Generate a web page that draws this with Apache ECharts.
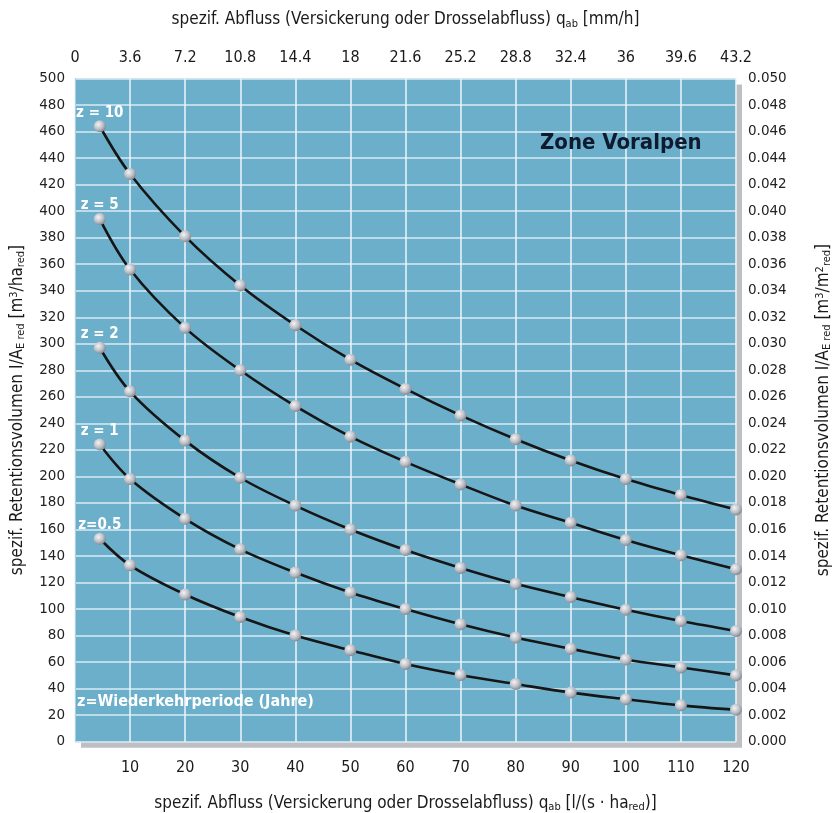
<!DOCTYPE html>
<html>
<head>
<meta charset="utf-8">
<script src="https://cdn.jsdelivr.net/npm/echarts@6/dist/echarts.min.js"></script>
<style>html,body{margin:0;padding:0;background:#fff}#c{width:834px;height:813px}</style>
</head>
<body>
<div id="c"></div>
<script>
// x positions: specific discharge q_ab [l/(s·ha_red)]
const xValues = [4.5, 10, 20, 30, 40, 50, 60, 70, 80, 90, 100, 110, 120];
// retention volume [m3/ha_red] per return period z
const seriesNames = ['z = 10', 'z = 5', 'z = 2', 'z = 1', 'z=0.5'];
const z10  = [464, 428, 381, 344, 314, 288, 266, 246, 228, 212, 198, 186, 175];
const z5   = [394, 356, 312, 280, 253, 230, 211, 194, 178, 165, 152, 140.5, 130];
const z2   = [297, 264, 227, 199, 178, 160, 144.5, 131, 119, 109, 99.5, 91, 83.5];
const z1   = [224, 198, 168, 145, 127.5, 112.5, 100, 88.5, 78.5, 70, 62, 56, 50];
const z05  = [153, 133, 111, 94, 80, 69, 58.6, 50.3, 43.5, 37, 32, 27.4, 24];
const seriesValues = [z10, z5, z2, z1, z05];

const NARROW = "'Liberation Sans Narrow','DejaVu Sans Condensed','Arial Narrow',sans-serif";
const TICKF = "'DejaVu Sans',Verdana,sans-serif";

const chart = echarts.init(document.getElementById('c'), null, {renderer:'canvas'});

const richName = {
  sub: {fontSize: 11, fontFamily: NARROW, color:'#1a1a1a', padding:[8,0,0,0]},
  sup: {fontSize: 11, fontFamily: NARROW, color:'#1a1a1a', padding:[0,0,7,0]}
};
const nameStyle = {fontFamily: NARROW, fontSize: 17, color:'#1a1a1a', rich: richName};

const ballColor = new echarts.graphic.RadialGradient(0.38, 0.35, 0.75, [
  {offset:0, color:'#f4f4f6'},
  {offset:0.55, color:'#b9bcc3'},
  {offset:1, color:'#6f747d'}
]);

const series = seriesValues.map((vals, i) => ({
  type:'line',
  name: seriesNames[i],
  xAxisIndex: 0,
  yAxisIndex: 0,
  smooth: 0.35,
  symbol:'circle',
  symbolSize: 12,
  lineStyle:{color:'#161616', width:2.6},
  itemStyle:{color: ballColor, borderWidth:0},
  z: 3,
  data: vals.map((v, j) => j === 0 ? {
    value:[xValues[j], v],
    label:{show:true, position:'top', distance:0, formatter: seriesNames[i],
      color:'#ffffff', fontFamily: NARROW, fontWeight:'bold', fontSize:15}
  } : [xValues[j], v]),
  animation:false
}));

chart.setOption({
  animation:false,
  backgroundColor:'#ffffff',
  grid:{left:75, right:98, top:78.5, bottom:71.3, show:true,
    outerBoundsMode:'none', containLabel:false,
    backgroundColor:'#6cafcb', borderWidth:0,
    shadowColor:'#bdbfc3', shadowOffsetX:6, shadowOffsetY:6, shadowBlur:0.1},
  xAxis:[{
    type:'value', position:'bottom', min:0, max:120, interval:10,
    axisLine:{show:false}, axisTick:{show:false},
    axisLabel:{margin:18, fontFamily:NARROW, fontSize:16, color:'#1a1a1a',
      formatter: v => (v === 0 ? '' : String(v))},
    splitLine:{show:true, lineStyle:{color:'#eef6fa', width:1.5}},
    name:'spezif. Abfluss (Versickerung oder Drosselabfluss) q{sub|ab} [l/(s · ha{sub|red})]',
    nameLocation:'middle', nameGap:52, nameTextStyle: nameStyle
  },{
    type:'value', position:'top', min:0, max:43.2, interval:3.6,
    axisLine:{show:false}, axisTick:{show:false},
    axisLabel:{margin:13, fontFamily:NARROW, fontSize:16, color:'#1a1a1a',
      formatter: v => String(Math.round(v*10)/10)},
    splitLine:{show:false},
    name:'spezif. Abfluss (Versickerung oder Drosselabfluss) q{sub|ab} [mm/h]',
    nameLocation:'middle', nameGap:49, nameTextStyle: nameStyle
  }],
  yAxis:[{
    type:'value', position:'left', min:0, max:500, interval:20,
    axisLine:{show:true, lineStyle:{color:'#a8d0e2', width:1}}, axisTick:{show:false},
    axisLabel:{margin:10, fontFamily:TICKF, fontSize:13.5, color:'#222'},
    splitLine:{show:true, lineStyle:{color:'#d9ebf3', width:1.5}},
    name:'spezif. Retentionsvolumen I/A{sub|E red} [m{sup|3}/ha{sub|red}]',
    nameLocation:'middle', nameRotate:90, nameGap:48, nameTextStyle: nameStyle
  },{
    type:'value', position:'right', min:0, max:0.05, interval:0.002,
    axisLine:{show:false}, axisTick:{show:false},
    axisLabel:{margin:12, fontFamily:TICKF, fontSize:13.5, color:'#222',
      formatter: v => v.toFixed(3)},
    splitLine:{show:false},
    name:'spezif. Retentionsvolumen I/A{sub|E red} [m{sup|3}/m{sup|2}{sub|red}]',
    nameLocation:'middle', nameRotate:90, nameGap:78, nameTextStyle: nameStyle
  }],
  graphic:[
    {type:'text', left:540, top:132, z:10, style:{text:'Zone Voralpen', fill:'#0d1a30',
      font:"bold 22px 'Liberation Sans Narrow','DejaVu Sans Condensed',sans-serif"}},
    {type:'text', left:77, top:694, z:10, style:{text:'z=Wiederkehrperiode (Jahre)', fill:'#ffffff',
      font:"bold 16px 'Liberation Sans Narrow','DejaVu Sans Condensed',sans-serif"}}
  ],
  series: series
});
</script>
</body>
</html>
